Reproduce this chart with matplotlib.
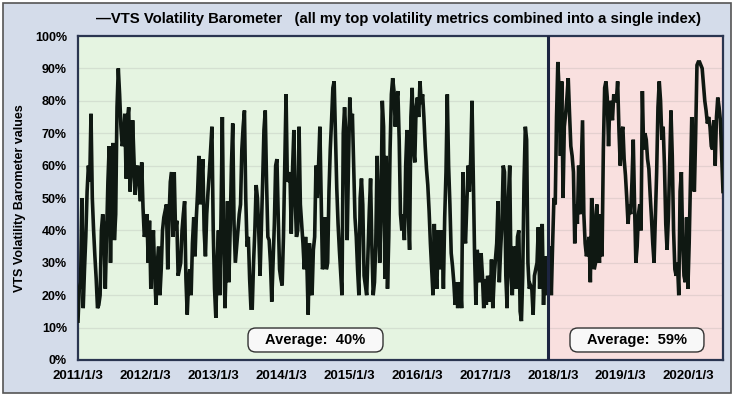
import numpy as np
import pandas as pd
import matplotlib
matplotlib.use("Agg")
import matplotlib.pyplot as plt
from matplotlib.patches import Rectangle, FancyBboxPatch

plt.rcParams['font.family'] = ['Liberation Sans', 'DejaVu Sans']
plt.rcParams['font.weight'] = 'bold'

# weekly readings of the barometer (%), starting 2011/1/3
start_date = '2011-01-03'
split_date = '2017-12-05'
barometer = [
    12, 22, 24, 50, 16, 28, 38, 52, 60, 55,
    76, 50, 40, 32, 25, 16, 17, 20, 40, 45,
    40, 22, 38, 55, 66, 30, 55, 67, 37, 45,
    78, 90, 82, 72, 66, 68, 76, 56, 74, 78,
    52, 58, 74, 62, 51, 58, 60, 55, 49, 61,
    47, 38, 40, 45, 30, 43, 22, 32, 40, 26,
    17, 30, 35, 20, 28, 40, 44, 46, 48, 28,
    44, 55, 58, 38, 58, 40, 43, 26, 28, 30,
    40, 45, 49, 25, 14, 24, 28, 20, 36, 44,
    32, 44, 52, 63, 48, 55, 62, 40, 32, 45,
    52, 58, 65, 72, 40, 22, 13, 30, 40, 20,
    45, 75, 40, 16, 30, 49, 24, 40, 60, 73,
    42, 30, 35, 40, 45, 48, 65, 72, 77, 50,
    35, 38, 25, 16, 16, 30, 40, 54, 50, 40,
    26, 40, 55, 71, 77, 55, 38, 37, 30, 18,
    30, 42, 60, 62, 44, 28, 25, 23, 38, 60,
    82, 55, 56, 58, 39, 59, 71, 50, 38, 40,
    72, 48, 42, 36, 28, 38, 30, 14, 36, 22,
    20, 34, 38, 60, 50, 60, 72, 50, 28, 30,
    44, 28, 30, 52, 65, 74, 84, 86, 70, 53,
    42, 34, 27, 20, 70, 78, 70, 37, 60, 81,
    72, 76, 60, 44, 38, 28, 20, 50, 56, 48,
    26, 23, 20, 33, 46, 56, 35, 20, 24, 36,
    63, 48, 30, 45, 80, 72, 25, 63, 22, 38,
    65, 82, 87, 83, 72, 80, 83, 68, 45, 40,
    45, 37, 60, 71, 45, 34, 75, 84, 65, 61,
    78, 81, 75, 86, 79, 82, 75, 66, 59, 54,
    46, 36, 28, 20, 42, 28, 22, 40, 28, 38,
    40, 22, 44, 58, 82, 60, 48, 33, 29, 24,
    17, 24, 16, 22, 24, 16, 58, 40, 36, 48,
    60, 52, 62, 80, 55, 32, 17, 34, 30, 24,
    33, 26, 16, 25, 17, 26, 24, 18, 31, 16,
    25, 31, 36, 49, 24, 34, 42, 60, 58, 26,
    16, 50, 60, 26, 20, 35, 34, 22, 38, 40,
    15, 12, 26, 55, 72, 68, 30, 22, 23, 22,
    14, 26, 28, 30, 41, 22, 35, 42, 17, 32,
    30, 20, 32, 35, 20, 36, 50, 48, 75, 92,
    83, 63, 86, 50, 72, 76, 81, 87, 76, 66,
    63, 58, 36, 48, 42, 60, 45, 60, 74, 45,
    36, 32, 34, 38, 24, 50, 45, 28, 30, 48,
    35, 30, 45, 32, 65, 84, 86, 81, 66, 80,
    78, 74, 82, 80, 80, 86, 71, 60, 70, 72,
    62, 57, 50, 42, 48, 45, 55, 68, 48, 30,
    35, 45, 48, 40, 83, 65, 70, 68, 62, 59,
    51, 44, 36, 30, 44, 58, 78, 86, 80, 68,
    72, 60, 42, 34, 44, 60, 77, 63, 40, 28,
    26, 30, 20, 52, 58, 36, 26, 24, 44, 22,
    36, 55, 75, 55, 52, 70, 91, 92, 92, 91,
    90, 85, 80, 77, 73, 75, 72, 66, 65, 74,
    60, 75, 81, 78, 74, 63, 52,
]
tick_years = list(range(2011, 2021))
tick_labels = [f"{y}/1/3" for y in tick_years]
avg_labels = ["Average:  40%", "Average:  59%"]

dates = pd.date_range(start_date, periods=len(barometer), freq='7D')
split = pd.Timestamp(split_date)

fig = plt.figure(figsize=(7.4, 3.98), dpi=100, facecolor='white')
fig.patches.append(Rectangle((0.004, 0.0126), 0.984, 0.98, transform=fig.transFigure,
                             facecolor='#d4dcea', edgecolor='#555555', lw=1.2, zorder=-10))

ax = fig.add_axes([0.1054, 0.0955, 0.8716, 0.814])
ax.set_facecolor('none')
ax.axvspan(dates[0], split, color='#e5f4e1', zorder=0)
ax.axvspan(split, dates[-1], color='#f9e0df', zorder=0)
for v in range(10, 100, 10):
    ax.axhline(v, color='#8a8a8a', alpha=0.18, lw=0.9, zorder=1)

ax.plot(dates, barometer, color='#0f1812', lw=2.6, zorder=3, solid_joinstyle='miter')
ax.axvline(split, color='#1c2440', lw=2.2, zorder=4)

ax.set_xlim(dates[0], dates[-1])
ax.set_ylim(0, 100)
ax.set_yticks(range(0, 101, 10))
ax.set_yticklabels([f"{v}%" for v in range(0, 101, 10)])
ax.set_xticks([pd.Timestamp(f"{y}-01-03") for y in tick_years])
ax.set_xticklabels(tick_labels)
ax.tick_params(axis='both', length=0, labelsize=9)
ax.tick_params(axis='x', labelsize=9.5, pad=7)
ax.tick_params(axis='y', pad=8)
for s in ax.spines.values():
    s.set_color('#2a3550')
    s.set_linewidth(1.6)

ax.set_ylabel("VTS Volatility Barometer values", fontsize=9, fontweight='bold', labelpad=6)

fig.text(0.538, 0.952, "\u2014VTS Volatility Barometer   (all my top volatility metrics combined into a single index)",
         ha='center', va='center', fontsize=10.7, fontweight='bold')

# average boxes
for (x0, x1), label in zip([(0.2636, 0.4729), (0.7628, 0.9705)], avg_labels):
    box = FancyBboxPatch((x0, 0.0247), x1 - x0, 0.074, boxstyle='round,pad=0,rounding_size=0.012',
                         transform=ax.transAxes, facecolor='#f8f8f8', edgecolor='#333333',
                         lw=1.0, zorder=5, mutation_aspect=2.0)
    ax.add_patch(box)
    ax.text((x0 + x1) / 2, 0.0617, label, transform=ax.transAxes, ha='center', va='center',
            fontsize=10.5, fontweight='bold', zorder=6)

fig.savefig('out.png', dpi=100)
